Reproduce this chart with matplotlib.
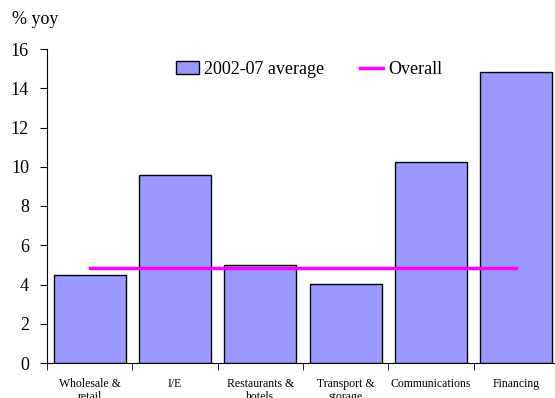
import numpy as np
import matplotlib.pyplot as plt

categories = ["Wholesale &\nretail", "I/E", "Restaurants &\nhotels", "Transport &\nstorage",
              "Communications", "Financing"]
avg_0207 = [4.5, 9.6, 5.0, 4.05, 10.25, 14.85]
overall = [4.85, 4.85, 4.85, 4.85, 4.85, 4.85]

plt.rcParams['font.family'] = ['Liberation Serif', 'DejaVu Serif']

fig = plt.figure(figsize=(5.55, 3.98), dpi=100)
ax = fig.add_axes([47 / 555, 35 / 398, 512 / 555, 314 / 398])

x = np.arange(len(categories))
bars = ax.bar(x, avg_0207, width=0.845, color="#9999FF", edgecolor="black", linewidth=1,
              zorder=2)
line, = ax.plot(x, overall, color="#FF00FF", linewidth=2.5, zorder=3)

ax.set_xlim(-0.5, len(categories) - 0.5)
ax.set_ylim(0, 16)
ax.set_yticks(range(0, 17, 2))
ax.tick_params(axis='y', labelsize=13, length=5, direction='out', pad=8)

ax.set_xticks(x)
ax.set_xticklabels(categories, fontsize=8.5, linespacing=1.1)
ax.tick_params(axis='x', length=0, pad=11)
ax.set_xticks(np.arange(-0.5, len(categories), 1), minor=True)
ax.tick_params(axis='x', which='minor', length=5, direction='out')

for s in ['top', 'right']:
    ax.spines[s].set_visible(False)

fig.text(12 / 555, 1 - 19 / 398, "% yoy", fontsize=13, va='center', ha='left')

ax.legend([bars, line], ["2002-07 average", "Overall"], loc='upper left',
          bbox_to_anchor=(0.237, 0.985), ncol=2, frameon=False,
          fontsize=13, handlelength=1.3, handletextpad=0.25, columnspacing=2.0,
          borderaxespad=0)

fig.savefig("out.png", dpi=100)
